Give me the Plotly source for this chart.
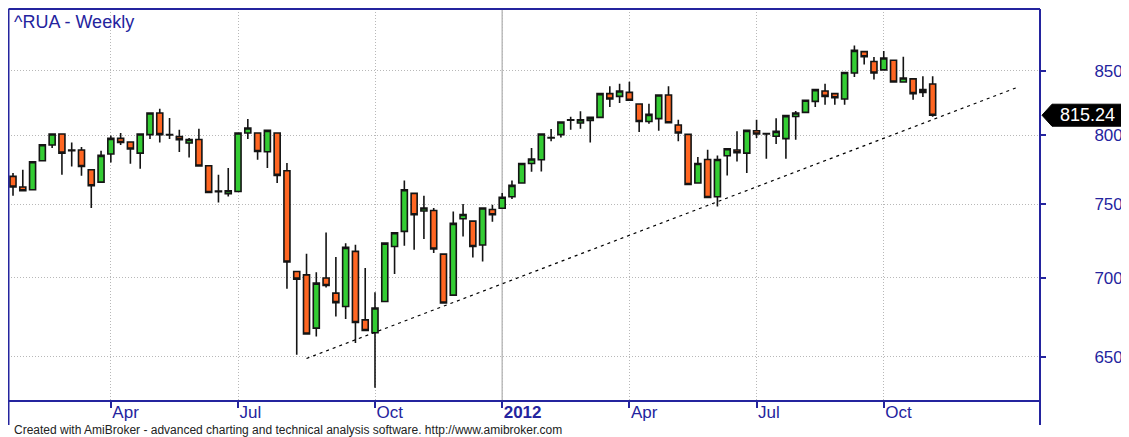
import numpy as np
import pandas as pd
import plotly.graph_objects as go

chart_title = "^RUA - Weekly"
footer_text = "Created with AmiBroker - advanced charting and technical analysis software. http://www.amibroker.com"
first_week = "2011-01-21"

open_ = [769.8, 762.2, 760.2, 781.2, 792.8, 801.0, 788.6, 789.1, 774.6, 765.7,
         786.1, 797.7, 795.0, 786.8, 800.5, 816.9, 800.3, 799.0, 794.3, 796.9,
         777.5, 759.3, 757.4, 759.0, 801.7, 801.7, 787.8, 801.7, 773.9, 704.1,
         701.9, 667.7, 699.8, 690.0, 681.4, 717.5, 672.9, 664.8, 684.6, 720.8,
         731.1, 757.6, 745.2, 745.6, 715.7, 688.7, 739.8, 738.2, 721.8, 746.3,
         747.1, 755.2, 765.0, 779.2, 781.9, 798.0, 800.5, 811.4, 809.3, 811.3,
         813.6, 831.9, 829.8, 832.9, 823.9, 810.5, 812.6, 830.8, 807.8, 800.7,
         765.0, 782.1, 755.2, 784.8, 789.1, 786.8, 803.5, 801.0, 799.3, 797.5,
         814.3, 817.4, 825.9, 834.0, 831.9, 827.7, 848.2, 865.3, 857.4, 850.6,
         858.3, 841.0, 843.5, 832.9, 839.5]
high = [772.2, 774.6, 780.4, 793.0, 801.0, 801.0, 794.7, 791.3, 774.6, 788.5,
        799.9, 801.7, 795.0, 801.0, 816.9, 820.2, 813.1, 804.2, 798.0, 805.0,
        777.5, 771.0, 775.8, 801.7, 812.3, 801.7, 803.7, 801.7, 779.5, 704.1,
        715.9, 703.7, 730.4, 713.7, 723.1, 722.0, 706.4, 690.6, 723.1, 730.2,
        766.9, 757.6, 756.0, 747.3, 715.7, 744.9, 750.1, 738.2, 747.3, 749.6,
        757.9, 766.9, 779.2, 790.5, 801.0, 804.8, 810.1, 814.1, 818.2, 813.6,
        831.9, 837.6, 839.7, 841.3, 823.9, 824.1, 830.8, 837.6, 811.8, 800.7,
        783.9, 789.3, 785.1, 790.0, 803.0, 803.7, 811.8, 801.8, 813.0, 814.9,
        818.5, 826.7, 835.0, 839.7, 831.9, 848.6, 870.2, 865.3, 861.0, 865.9,
        858.3, 861.2, 843.5, 845.5, 845.5]
low = [756.0, 759.0, 760.2, 781.2, 790.5, 771.0, 777.0, 770.3, 747.3, 765.7,
       779.9, 792.8, 779.0, 775.3, 797.2, 794.7, 797.2, 787.6, 783.6, 777.3,
       758.3, 751.2, 755.5, 759.0, 797.2, 781.9, 775.8, 765.0, 692.8, 651.2,
       664.0, 662.5, 693.6, 675.0, 673.4, 658.4, 666.2, 631.4, 684.6, 702.4,
       721.3, 718.6, 725.9, 716.4, 683.6, 688.7, 727.6, 713.4, 710.8, 737.7,
       747.1, 753.6, 765.0, 773.2, 773.4, 795.5, 798.4, 804.2, 805.0, 794.7,
       813.6, 821.5, 824.6, 826.7, 802.5, 808.8, 803.5, 809.5, 795.5, 764.0,
       765.0, 754.7, 748.4, 770.5, 780.7, 772.2, 798.0, 782.6, 793.5, 782.6,
       796.7, 817.4, 821.5, 823.3, 823.3, 823.3, 845.0, 855.0, 842.9, 850.6,
       841.0, 841.0, 827.2, 829.3, 814.0]
close = [762.2, 759.5, 780.4, 793.0, 801.0, 786.8, 789.0, 777.0, 763.1, 785.1,
         797.7, 794.7, 789.8, 801.0, 816.9, 800.5, 800.6, 796.7, 796.9, 777.3,
         758.3, 758.8, 759.5, 801.7, 805.5, 788.0, 803.7, 770.5, 710.4, 699.1,
         664.0, 696.5, 694.9, 683.9, 720.2, 671.2, 666.2, 680.4, 723.1, 730.2,
         760.2, 742.6, 747.3, 719.1, 683.6, 736.6, 742.8, 720.8, 747.3, 742.6,
         754.9, 763.3, 779.2, 782.4, 801.0, 798.4, 810.1, 811.8, 811.8, 813.6,
         831.9, 827.7, 834.0, 826.7, 810.5, 815.9, 830.8, 809.5, 801.7, 764.0,
         779.2, 754.7, 782.1, 790.0, 787.1, 803.7, 801.0, 801.4, 803.0, 814.9,
         816.9, 826.7, 835.0, 829.8, 828.7, 848.6, 866.3, 861.2, 848.2, 860.2,
         841.0, 844.2, 831.9, 835.0, 815.24]

tick_dates = ["2011-04-01", "2011-07-01", "2011-10-07", "2012-01-06",
              "2012-04-06", "2012-07-06", "2012-10-05"]
tick_labels = ["Apr", "Jul", "Oct", "<b>2012</b>", "Apr", "Jul", "Oct"]
year_line_date = "2012-01-06"
price_ticks = [650, 700, 750, 800, 850]

trend_dates = ["2011-08-19", "2013-01-09 06:00"]
trend_values = [649.0, 837.1]

x_range = ["2011-01-17 10:00", "2013-01-24 19:00"]
y_range = [624.2, 900.6]

weeks = pd.date_range(first_week, periods=len(close), freq="7D")

BLUE = "#24249E"
UP = "#33CC33"
DOWN = "#FF6622"
EDGE = "#141414"
GRID = "#B8B8B8"
FONT = "Arial, Liberation Sans, sans-serif"

# The page body has an 8px margin: the figure is sized so that it fills the
# rest of the 1129x437 window, and page positions are converted below.
OFF = 8
W, H = 1129 - OFF, 437 - OFF
PL, PR, PT, PB = 8, 1040, 9, 400          # plot area in page pixels
L, T = PL - OFF, PT - OFF
R, B = W - (PR - OFF), H - (PB - OFF)
pw, ph = PR - PL, PB - PT


def px_x(p):
    return (p - PL) / pw


def px_y(p):
    return (PB - p) / ph


fig = go.Figure()
fig.add_trace(go.Candlestick(
    x=weeks, open=open_, high=high, low=low, close=close,
    increasing=dict(fillcolor=UP, line=dict(color=EDGE, width=1.6)),
    decreasing=dict(fillcolor=DOWN, line=dict(color=EDGE, width=1.6)),
    whiskerwidth=0, showlegend=False, hoverinfo="skip"))
fig.add_trace(go.Scatter(
    x=trend_dates, y=trend_values, mode="lines",
    line=dict(color="black", width=1.2, dash="3px,4px"),
    showlegend=False, hoverinfo="skip"))

lo, hi = np.log10(y_range[0]), np.log10(y_range[1])
yc = (np.log10(close[-1]) - lo) / (hi - lo)
hh = 11 / ph
tip, rl, rr = px_x(1042), px_x(1052), px_x(1122)
tag_path = (f"M {tip} {yc} L {rl} {yc + hh} L {rr} {yc + hh} "
            f"L {rr} {yc - hh} L {rl} {yc - hh} Z")

bot = px_y(425)
shapes = [
    dict(type="line", xref="x", yref="paper", x0=year_line_date, x1=year_line_date,
         y0=0, y1=1, line=dict(color="#BDBDBD", width=1.5), layer="below"),
    dict(type="line", xref="paper", yref="paper", x0=px_x(8.5), x1=px_x(8.5),
         y0=bot, y1=1, line=dict(color=BLUE, width=2)),
    dict(type="line", xref="paper", yref="paper", x0=1, x1=1, y0=bot, y1=1,
         line=dict(color=BLUE, width=2)),
    dict(type="line", xref="paper", yref="paper", x0=px_x(8.5), x1=1, y0=1, y1=1,
         line=dict(color=BLUE, width=2)),
    dict(type="path", xref="paper", yref="paper", path=tag_path,
         fillcolor="black", line=dict(color="black", width=1)),
]

annotations = [
    dict(text=chart_title, xref="paper", yref="paper", x=px_x(12), y=1,
         xanchor="left", yanchor="top", yshift=-1, showarrow=False,
         font=dict(family=FONT, size=18, color=BLUE)),
    dict(text=f"{close[-1]:.2f}", xref="paper", yref="paper", x=px_x(1087), y=yc,
         xanchor="center", yanchor="middle", showarrow=False,
         font=dict(family=FONT, size=18, color="white")),
    dict(text=footer_text, xref="paper", yref="paper", x=px_x(12), y=px_y(430),
         xanchor="left", yanchor="middle", showarrow=False,
         font=dict(family=FONT, size=12, color="#222222")),
]

fig.update_layout(
    width=W, height=H, margin=dict(l=L, r=R, t=T, b=B, autoexpand=False),
    paper_bgcolor="white", plot_bgcolor="white", showlegend=False,
    boxgap=0.12, boxgroupgap=0.3,
    shapes=shapes, annotations=annotations,
    xaxis=dict(type="date", range=x_range, rangeslider=dict(visible=False),
               automargin=False,
               tickmode="array", tickvals=tick_dates, ticktext=tick_labels,
               ticks="outside", ticklen=6, tickwidth=1.5, tickcolor=BLUE,
               showline=True, linecolor=BLUE, linewidth=1.5,
               showgrid=True, gridcolor=GRID, griddash="1px,2px", gridwidth=1,
               ticklabelposition="outside right", ticklabelstandoff=-4,
               tickfont=dict(family=FONT, size=17, color=BLUE), zeroline=False),
    yaxis=dict(type="log", range=[lo, hi], side="right", automargin=False,
               tickmode="array", tickvals=price_ticks,
               ticktext=[str(v) for v in price_ticks],
               ticks="outside", ticklen=5, tickwidth=1.5, tickcolor=BLUE,
               showline=False, showgrid=True, gridcolor=GRID,
               griddash="1px,2px", gridwidth=1, ticklabelstandoff=45,
               tickfont=dict(family=FONT, size=17, color=BLUE), zeroline=False),
)

fig.write_html("out.html")
